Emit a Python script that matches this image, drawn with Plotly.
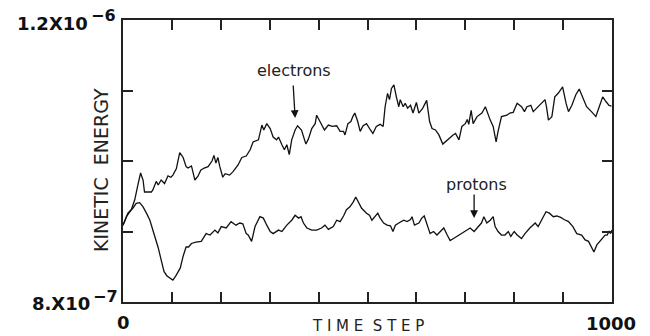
import plotly.graph_objects as go

# Kinetic energy values are given in units of 1e-7
electron_steps = [0, 7, 17, 24, 31, 36, 41, 44, 58, 61, 68, 72, 78, 85, 92, 98, 102, 109, 116, 123,
                  129, 133, 140, 147, 153, 159, 166, 174, 182, 186, 190, 194, 198, 204, 209, 218, 225, 235, 243, 252,
                  260, 266, 277, 284, 288, 294, 301, 307, 314, 318, 325, 330, 335, 340, 345, 352, 357, 362, 365, 374,
                  379, 386, 393, 396, 403, 412, 420, 428, 437, 444, 451, 454, 460, 466, 470, 474, 480, 485, 491, 498,
                  506, 511, 518, 526, 532, 536, 541, 545, 549, 554, 559, 564, 567, 573, 577, 582, 588, 593, 600, 605,
                  613, 621, 627, 632, 639, 646, 654, 663, 675, 680, 687, 693, 700, 704, 707, 712, 716, 724, 734, 741,
                  748, 751, 757, 763, 767, 774, 785, 791, 798, 806, 815, 821, 826, 834, 839, 849, 858, 863, 866, 870,
                  877, 883, 890, 899, 906, 911, 918, 926, 933, 940, 948, 958, 967, 975, 981, 988, 994, 999]
electron_ke = [9.09, 9.21, 9.31, 9.45, 9.68, 9.83, 9.73, 9.56, 9.56, 9.59, 9.71, 9.66, 9.73, 9.68, 9.79, 9.77, 9.80, 9.89, 10.12, 10.05,
               9.92, 9.90, 9.93, 9.73, 9.78, 9.87, 9.90, 9.92, 10.00, 10.08, 9.97, 10.05, 9.92, 9.77, 9.82, 9.80, 9.85, 9.94, 10.05, 10.07,
               10.16, 10.27, 10.30, 10.51, 10.44, 10.53, 10.46, 10.34, 10.30, 10.34, 10.23, 10.16, 10.23, 10.09, 10.30, 10.44, 10.50, 10.46, 10.44, 10.24,
               10.31, 10.46, 10.53, 10.65, 10.56, 10.44, 10.51, 10.49, 10.50, 10.42, 10.42, 10.37, 10.53, 10.56, 10.63, 10.68, 10.56, 10.42, 10.50, 10.53,
               10.44, 10.39, 10.49, 10.52, 10.49, 10.77, 10.96, 10.87, 11.03, 11.08, 10.91, 10.77, 10.87, 10.77, 10.82, 10.75, 10.79, 10.68, 10.83, 10.68,
               10.75, 10.86, 10.56, 10.46, 10.44, 10.37, 10.24, 10.30, 10.37, 10.39, 10.30, 10.49, 10.53, 10.59, 10.52, 10.72, 10.53, 10.63, 10.68, 10.77,
               10.63, 10.58, 10.49, 10.27, 10.42, 10.63, 10.65, 10.68, 10.69, 10.82, 10.77, 10.70, 10.77, 10.79, 10.70, 10.77, 10.83, 10.87, 10.77, 10.58,
               10.63, 10.91, 10.96, 11.05, 10.82, 10.70, 10.79, 10.94, 11.02, 10.89, 10.77, 10.70, 10.63, 10.79, 10.91, 10.84, 10.79, 10.78]

proton_steps = [0, 10, 20, 27, 34, 41, 48, 55, 65, 72, 79, 84, 90, 96, 102, 108, 117, 123, 129, 134,
                140, 149, 160, 170, 178, 188, 194, 201, 211, 221, 231, 239, 245, 252, 256, 263, 270, 280, 287, 294,
                301, 307, 318, 325, 335, 345, 352, 359, 364, 369, 376, 386, 396, 406, 413, 420, 430, 437, 444, 451,
                457, 464, 471, 476, 481, 488, 498, 504, 509, 516, 521, 526, 533, 540, 547, 552, 557, 564, 574, 581,
                588, 591, 596, 605, 611, 616, 622, 628, 635, 642, 649, 656, 663, 669, 676, 687, 697, 703, 710, 718,
                726, 733, 738, 744, 751, 757, 761, 767, 774, 781, 788, 793, 800, 806, 815, 822, 832, 843, 849, 856,
                865, 872, 880, 887, 895, 902, 911, 920, 928, 938, 945, 952, 958, 963, 969, 975, 981, 986, 990, 994,
                997, 1000]
proton_ke = [9.09, 9.26, 9.33, 9.40, 9.41, 9.35, 9.26, 9.16, 8.93, 8.77, 8.57, 8.43, 8.37, 8.34, 8.31, 8.37, 8.48, 8.65, 8.78, 8.78,
             8.83, 8.85, 8.86, 8.97, 8.95, 9.02, 8.98, 9.07, 9.05, 9.14, 9.09, 9.12, 9.11, 8.97, 8.95, 8.86, 9.07, 9.21, 9.19, 9.09,
             9.00, 8.97, 9.02, 9.00, 9.09, 9.16, 9.23, 9.19, 9.21, 9.12, 9.05, 9.02, 9.02, 9.05, 9.09, 9.03, 9.07, 9.16, 9.14, 9.22,
             9.31, 9.35, 9.42, 9.49, 9.42, 9.33, 9.26, 9.23, 9.16, 9.21, 9.26, 9.19, 9.12, 9.09, 9.08, 9.00, 9.09, 9.12, 9.16, 9.14,
             9.17, 9.21, 9.09, 9.12, 9.19, 9.22, 9.09, 8.97, 9.00, 8.95, 9.00, 9.05, 8.95, 8.87, 8.90, 8.95, 9.00, 9.03, 9.05, 9.00,
             9.07, 9.12, 9.21, 9.12, 9.16, 9.21, 9.07, 9.00, 8.95, 8.95, 9.00, 8.93, 9.00, 8.95, 8.90, 8.97, 9.05, 9.12, 9.07, 9.16,
             9.28, 9.26, 9.21, 9.22, 9.20, 9.17, 9.14, 9.07, 8.97, 8.95, 8.88, 8.86, 8.78, 8.71, 8.81, 8.86, 8.90, 8.95, 8.95, 9.00,
             8.97, 9.02]

x_range = [0, 1000]
y_range = [8.0e-7, 1.2e-6]
x_tick_vals = [100, 200, 300, 400, 500, 600, 700, 800, 900]
y_tick_vals = [9e-7, 1.0e-6, 1.1e-6]

electron_y = [v * 1e-7 for v in electron_ke]
proton_y = [v * 1e-7 for v in proton_ke]

fig = go.Figure()
fig.add_trace(go.Scatter(x=electron_steps, y=electron_y, mode="lines",
                         line=dict(color="#111111", width=1.3), showlegend=False))
fig.add_trace(go.Scatter(x=proton_steps, y=proton_y, mode="lines",
                         line=dict(color="#111111", width=1.3), showlegend=False))

axis_common = dict(showline=True, linecolor="#222222", linewidth=1.5, mirror="ticks",
                   ticks="inside", ticklen=10, tickwidth=1.5, tickcolor="#222222",
                   showticklabels=False, showgrid=False, zeroline=False)
fig.update_xaxes(range=x_range, tickvals=x_tick_vals, **axis_common)
fig.update_yaxes(range=y_range, tickvals=y_tick_vals, **axis_common)

num_font = dict(family="DejaVu Sans", size=18, color="#111111")
sup_font = dict(family="DejaVu Sans", size=16, color="#111111")
lbl_font = dict(family="DejaVu Sans", size=16, color="#222222")

ann = []
# y-axis end labels
ann.append(dict(text="<b>1.2X10</b>", xref="paper", yref="paper", x=-0.068, y=0.989,
                xanchor="right", yanchor="middle", showarrow=False, font=num_font))
ann.append(dict(text="<b>\u22126</b>", xref="paper", yref="paper", x=-0.07, y=1.016,
                xanchor="left", yanchor="middle", showarrow=False, font=sup_font))
ann.append(dict(text="<b>8.X10</b>", xref="paper", yref="paper", x=-0.064, y=-0.004,
                xanchor="right", yanchor="middle", showarrow=False, font=num_font))
ann.append(dict(text="<b>\u22127</b>", xref="paper", yref="paper", x=-0.066, y=0.02,
                xanchor="left", yanchor="middle", showarrow=False, font=sup_font))
# x-axis end labels
ann.append(dict(text="<b>0</b>", xref="paper", yref="paper", x=0.0, y=-0.071,
                xanchor="center", yanchor="middle", showarrow=False, font=num_font))
ann.append(dict(text="<b>1000</b>", xref="paper", yref="paper", x=0.998, y=-0.078,
                xanchor="center", yanchor="middle", showarrow=False, font=num_font))
# axis titles
ann.append(dict(text="T I M E  S T E P", xref="paper", yref="paper", x=0.5, y=-0.086,
                xanchor="center", yanchor="middle", showarrow=False,
                font=dict(family="DejaVu Sans", size=15, color="#222222")))
ann.append(dict(text="KINETIC  ENERGY", xref="paper", yref="paper", x=-0.045, y=0.468,
                xanchor="center", yanchor="middle", showarrow=False, textangle=-90,
                font=dict(family="DejaVu Sans", size=19, color="#222222")))
# series labels with arrows
ann.append(dict(text="electrons", xref="x", yref="y", x=350, y=1.129e-6,
                xanchor="center", yanchor="middle", showarrow=False, font=lbl_font))
ann.append(dict(text="", xref="x", yref="y", x=352, y=1.061e-6, ax=-2, ay=-34,
                showarrow=True, arrowhead=2, arrowsize=1.2, arrowwidth=1.3, arrowcolor="#111111"))
ann.append(dict(text="protons", xref="x", yref="y", x=722, y=9.67e-7,
                xanchor="center", yanchor="middle", showarrow=False, font=lbl_font))
ann.append(dict(text="", xref="x", yref="y", x=718, y=9.19e-7, ax=0, ay=-25,
                showarrow=True, arrowhead=2, arrowsize=1.2, arrowwidth=1.3, arrowcolor="#111111"))

fig.update_layout(width=650, height=336, margin=dict(l=123, r=38, t=20, b=34),
                  paper_bgcolor="white", plot_bgcolor="white", annotations=ann)

fig.write_html("out.html")
